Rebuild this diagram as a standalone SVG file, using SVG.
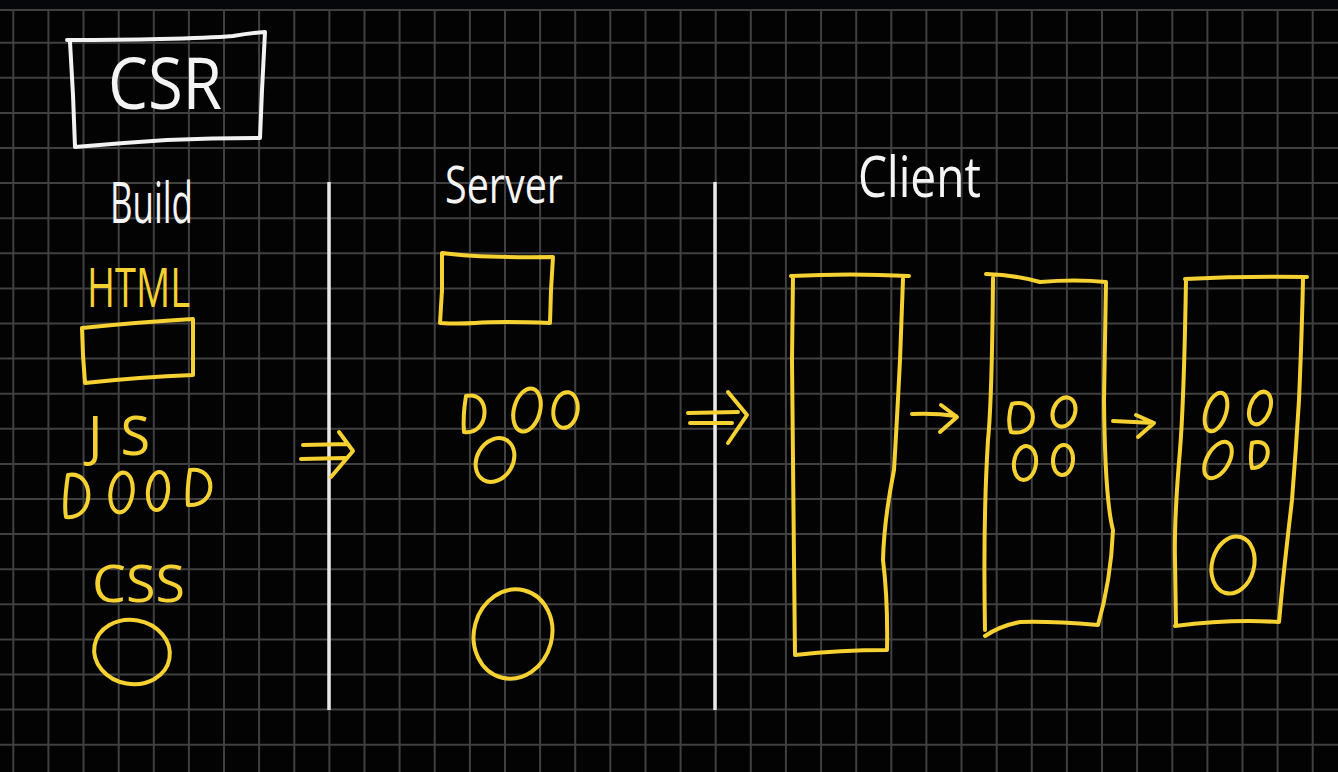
<svg xmlns="http://www.w3.org/2000/svg" width="1338" height="772" viewBox="0 0 1338 772">
<defs>
<style>
.bg{fill:#030303}
.strip{fill:#06070b}
.grid{stroke:#404040;stroke-width:2;fill:none}
.w{stroke:#f2f2f2;stroke-width:4;fill:none;stroke-linecap:round;stroke-linejoin:round}
.div{stroke:#e9e9e9;stroke-width:3.5;fill:none}
.y{stroke:#f5d232;stroke-width:4;fill:none;stroke-linecap:round;stroke-linejoin:round}
.tw{fill:#f4f4f4;font-family:"Open Sans","DejaVu Sans",sans-serif;font-weight:400}
.ty{fill:#f5d232;font-family:"Open Sans","DejaVu Sans",sans-serif;font-weight:400}
</style>
</defs>
<rect class="bg" x="0" y="0" width="1338" height="772"/>
<rect class="strip" x="0" y="0" width="1338" height="10"/>
<g id="grid">
<path class="grid" d="M13.3,10V772M48.4,10V772M83.5,10V772M118.7,10V772M153.8,10V772M188.9,10V772M224,10V772M259.1,10V772M294.3,10V772M329.4,10V772M364.5,10V772M399.6,10V772M434.7,10V772M469.9,10V772M505,10V772M540.1,10V772M575.2,10V772M610.3,10V772M645.5,10V772M680.6,10V772M715.7,10V772M750.8,10V772M785.9,10V772M821.1,10V772M856.2,10V772M891.3,10V772M926.4,10V772M961.5,10V772M996.7,10V772M1031.8,10V772M1066.9,10V772M1102,10V772M1137.1,10V772M1172.3,10V772M1207.4,10V772M1242.5,10V772M1277.6,10V772M1312.7,10V772"/>
<path class="grid" d="M0,10H1338M0,42.7H1338M0,77.8H1338M0,112.9H1338M0,148H1338M0,183.1H1338M0,218.2H1338M0,253.3H1338M0,288.4H1338M0,323.5H1338M0,358.6H1338M0,393.7H1338M0,428.8H1338M0,463.9H1338M0,499H1338M0,534.1H1338M0,569.2H1338M0,604.3H1338M0,639.4H1338M0,674.5H1338M0,709.6H1338M0,744.7H1338"/>
</g>

<g id="title-csr">
<path class="w" d="M67,40 Q120,40 160,39 Q210,38 233,36 Q250,33 265,32 L262,90 L260,138 Q215,138 167,140 Q120,143 75,147 L73,95 L70,42"/>
<text class="tw" x="108" y="109" font-size="72" textLength="114" lengthAdjust="spacingAndGlyphs">CSR</text>
</g>

<g id="build">
<text class="tw" x="110" y="223" font-size="56" textLength="83" lengthAdjust="spacingAndGlyphs">Build</text>
<text class="ty" x="87" y="307" font-size="54" textLength="103" lengthAdjust="spacingAndGlyphs">HTML</text>
<path class="y" d="M82,328 Q140,322 193,319 L193,347 L193,375 Q140,377 85,383 L83,355 Z"/>
<text class="ty" x="88" y="455" font-size="54" textLength="62" lengthAdjust="spacing">JS</text>
<path class="y" d="M68,475 C95,470 96,520 66,517 C64,505 66,488 68,475 Z"/>
<ellipse class="y" cx="121.5" cy="492.5" rx="11" ry="20" transform="rotate(8 121.5 492.5)"/>
<ellipse class="y" cx="158" cy="491" rx="10" ry="19" transform="rotate(6 158 491)"/>
<path class="y" d="M190,470 C217,466 218,507 188,505 C187,494 188,482 190,470 Z"/>
<text class="ty" x="92" y="602" font-size="52" textLength="93" lengthAdjust="spacingAndGlyphs">CSS</text>
<ellipse class="y" cx="132" cy="652" rx="38" ry="32" transform="rotate(10 132 652)"/>
</g>

<g id="server">
<text class="tw" x="445" y="203" font-size="52" textLength="118" lengthAdjust="spacingAndGlyphs">Server</text>
<path class="y" d="M442,253 Q480,258 553,257 L551,290 L550,323 Q500,321 475,323 Q458,324 440,323 L442,290 Z"/>
<path class="y" d="M466,396 C492,390 490,436 464,432 C463,420 464,408 466,396 Z"/>
<ellipse class="y" cx="527" cy="410" rx="13" ry="22" transform="rotate(15 527 410)"/>
<ellipse class="y" cx="565.5" cy="410" rx="12" ry="18" transform="rotate(10 565.5 410)"/>
<ellipse class="y" cx="495" cy="460" rx="18" ry="23" transform="rotate(30 495 460)"/>
<ellipse class="y" cx="513" cy="634" rx="39" ry="45" transform="rotate(15 513 634)"/>
</g>

<g id="client">
<text class="tw" x="858" y="197" font-size="56" textLength="123" lengthAdjust="spacingAndGlyphs">Client</text>
</g>

<g id="client-page-1">
<path class="y" d="M791,276 Q850,273 909,276 M903,279 L900,360 Q897,420 894,470 Q884,520 883,560 Q888,600 887,650 Q840,650 795,655 L794,560 Q793,450 792,360 L793,276"/>
</g>

<g id="client-page-2">
<path class="y" d="M986,274 Q1015,275 1040,282 Q1075,279 1106,282 L1104,400 Q1105,500 1113,530 Q1111,580 1098,625 Q1050,621 1020,622 Q1000,626 985,636 M993,278 Q992,400 988,440 Q983,520 985,630"/>
<path class="y" d="M1012,404 C1040,396 1040,438 1011,432 C1008,424 1009,412 1012,404 Z"/>
<ellipse class="y" cx="1064" cy="412" rx="11" ry="15" transform="rotate(20 1064 412)"/>
<ellipse class="y" cx="1025" cy="463" rx="11" ry="17" transform="rotate(8 1025 463)"/>
<ellipse class="y" cx="1063" cy="460" rx="10" ry="15" transform="rotate(5 1063 460)"/>
</g>

<g id="client-page-3">
<path class="y" d="M1185,279 Q1245,276 1307,277 M1303,279 Q1302,330 1299,400 Q1296,450 1292,500 Q1285,560 1282,590 L1279,622 Q1230,619 1175,626 M1186,280 Q1184,400 1180,450 Q1174,520 1175,560 L1176,625"/>
<ellipse class="y" cx="1216" cy="412" rx="10" ry="20" transform="rotate(18 1216 412)"/>
<ellipse class="y" cx="1260" cy="408" rx="10" ry="17" transform="rotate(20 1260 408)"/>
<ellipse class="y" cx="1218" cy="460" rx="11" ry="20" transform="rotate(30 1218 460)"/>
<path class="y" d="M1252,443 C1274,436 1272,468 1252,468 C1250,460 1251,450 1252,443 Z"/>
<ellipse class="y" cx="1233" cy="565" rx="21" ry="29" transform="rotate(15 1233 565)"/>
</g>

<g id="dividers">
<path class="div" d="M329,182 V710 M715,182 V710"/>
</g>

<g id="connectors">
<path class="y" d="M303,445 L348,444 M301,459 L345,458 M339,432 L353,451 L331,477"/>
<path class="y" d="M688,413 L738,412 M690,423 L732,423 M728,392 L747,415 L728,443"/>
<path class="y" d="M912,414 Q935,413 956,416 M941,405 L957,417 L940,432"/>
<path class="y" d="M1113,421 L1154,423 M1136,415 L1154,423 L1138,437"/>
</g>
</svg>
